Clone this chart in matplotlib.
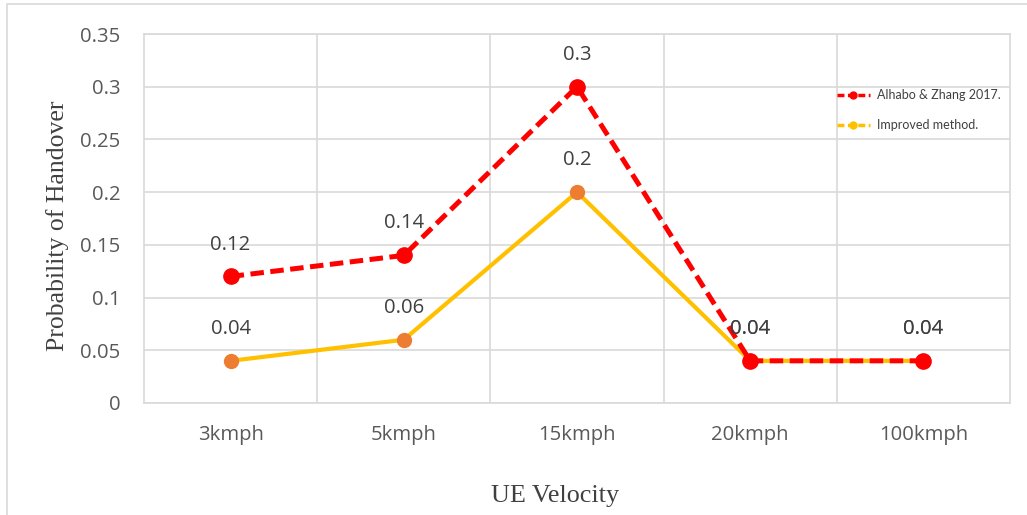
import matplotlib
matplotlib.use("Agg")
import matplotlib.pyplot as plt
from matplotlib.lines import Line2D
from matplotlib.patches import Rectangle

categories = ["3kmph", "5kmph", "15kmph", "20kmph", "100kmph"]
alhabo = [0.12, 0.14, 0.30, 0.04, 0.04]
improved = [0.04, 0.06, 0.20, 0.04, 0.04]
alhabo_labels = ["0.12", "0.14", "0.3", "0.04", "0.04"]
improved_labels = ["0.04", "0.06", "0.2", "0.04", "0.04"]
yticks = [0, 0.05, 0.1, 0.15, 0.2, 0.25, 0.3, 0.35]
ytick_labels = ["0", "0.05", "0.1", "0.15", "0.2", "0.25", "0.3", "0.35"]

W, H = 1027, 515
fig = plt.figure(figsize=(W / 100, H / 100), dpi=100)
grid_c = "#D9D9D9"
txt_c = "#595959"
tfont = "Open Sans"
fs = 14.6

# outer chart border
fig.add_artist(Rectangle((7 / W, -0.1), 1.2, 1 - 4 / H + 0.1, transform=fig.transFigure,
                         fill=False, edgecolor=grid_c, lw=1.2))

ax = fig.add_axes([144 / W, 1 - 403 / H, (1010 - 144) / W, (403 - 34) / H])
x = list(range(len(categories)))
ax.set_xlim(-0.5, len(categories) - 0.5)
ax.set_ylim(0, 0.35)

for yv in yticks:
    ax.axhline(yv, color=grid_c, lw=1.2, zorder=0)
for xv in [i + 0.5 for i in x[:-1]]:
    ax.axvline(xv, color=grid_c, lw=1.2, zorder=0)
for s in ax.spines.values():
    s.set_color(grid_c)
    s.set_linewidth(1.2)

ax.plot(x, improved, color="#FFC000", lw=3.0, zorder=3)
ax.plot(x, improved, ls="none", marker="o", ms=10, color="#ED7D31", zorder=3)
ax.plot(x, alhabo, color="#FF0000", lw=3.6, ls=(0, (2.7, 1.3)), zorder=4)
ax.plot(x, alhabo, ls="none", marker="o", ms=11, color="#FF0000", zorder=4)

for xi, v, t in zip(x, alhabo, alhabo_labels):
    ax.annotate(t, (xi, v), xytext=(0, 23), textcoords="offset points", ha="center",
                va="center", fontsize=fs, color="#404040", family=tfont, zorder=6)
for xi, v, t in zip(x, improved, improved_labels):
    ax.annotate(t, (xi, v), xytext=(0, 23), textcoords="offset points", ha="center",
                va="center", fontsize=fs, color="#404040", family=tfont, zorder=6)

ax.set_xticks(x)
ax.set_xticklabels(categories, family=tfont, fontsize=fs, color=txt_c)
ax.set_yticks(yticks)
ax.set_yticklabels(ytick_labels, family=tfont, fontsize=fs, color=txt_c)
ax.tick_params(length=0)
ax.tick_params(axis="x", pad=16)
ax.tick_params(axis="y", pad=17)

fig.text(555 / W, 1 - 496 / H, "UE Velocity", ha="center", va="center",
         family="Liberation Serif", fontsize=18.8, color="#404040")
fig.text(58 / W, 1 - 226 / H, "Probability of Handover", ha="center", va="center",
         rotation=90, family="Liberation Serif", fontsize=18.5, color="#404040")

handles = [
    Line2D([], [], color="#FF0000", lw=2.5, ls=(0, (2, 1)), marker="o", ms=5),
    Line2D([], [], color="#FFC000", lw=2.5, ls=(0, (2, 1)), marker="o", ms=5),
]
leg = ax.legend(handles, ["Alhabo & Zhang 2017.", "Improved method."],
                loc="upper left", bbox_to_anchor=((832 - 144) / (1010 - 144), 1 - (84 - 34) / (403 - 34)),
                frameon=False, prop={"family": "Lato", "size": 9}, labelcolor="#404040",
                handlelength=2.6, handletextpad=0.6, labelspacing=1.45, borderaxespad=0)

fig.savefig("out.png", dpi=100)
